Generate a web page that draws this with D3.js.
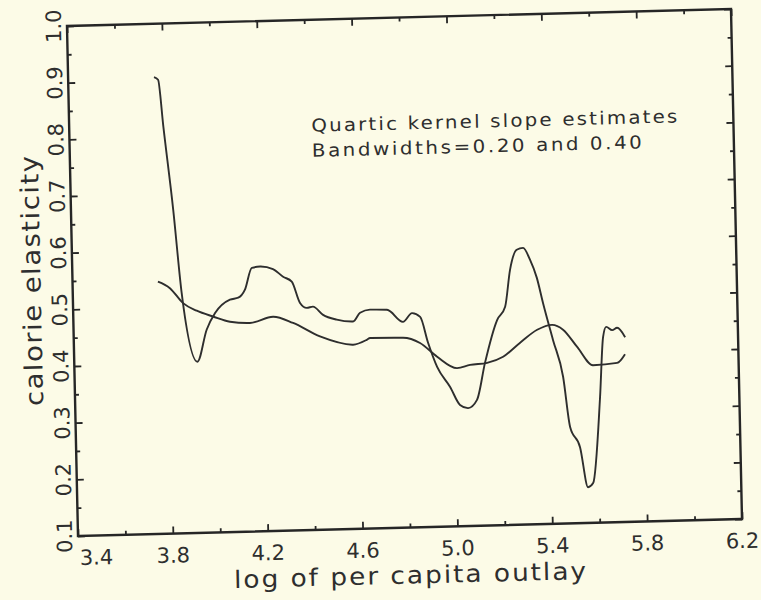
<!DOCTYPE html>
<html><head><meta charset="utf-8">
<script src="https://cdn.jsdelivr.net/npm/d3@7"></script>
<style>
html,body{margin:0;padding:0;background:#fcfbe7;}
svg{display:block;}
text{font-family:"DejaVu Sans",sans-serif;fill:#2e2e2e;}
</style></head>
<body>
<svg id="chart" width="761" height="600"></svg>
<script>
// ---- data ----
const xTickValues = [3.4,3.6,3.8,4.0,4.2,4.4,4.6,4.8,5.0,5.2,5.4,5.6,5.8,6.0,6.2];
const xTickLabels = ["3.4","3.8","4.2","4.6","5.0","5.4","5.8","6.2"];
const yTickValues = [0.1,0.15,0.2,0.25,0.3,0.35,0.4,0.45,0.5,0.55,0.6,0.65,0.7,0.75,0.8,0.85,0.9,0.95,1.0];
const yTickLabels = ["0.1","0.2","0.3","0.4","0.5","0.6","0.7","0.8","0.9","1.0"];
const xTitle = "log of per capita outlay";
const yTitle = "calorie elasticity";
const noteLines = ["Quartic kernel slope estimates","Bandwidths=0.20 and 0.40"];

// bandwidth 0.20 (wiggly)
const bw020_x = [3.762,3.779,3.797,3.831,3.859,3.919,3.961,3.998,4.062,4.097,4.126,4.157,4.192,4.246,4.288,4.324,4.357,4.385,4.411,4.453,4.510,4.579,4.609,4.651,4.723,4.789,4.828,4.862,4.893,4.929,4.982,5.022,5.056,5.094,5.131,5.186,5.221,5.245,5.275,5.302,5.330,5.357,5.381,5.420,5.459,5.484,5.524,5.554,5.576,5.613,5.631,5.645,5.670,5.691,5.724];
const bw020_y = [0.906,0.901,0.818,0.671,0.524,0.402,0.458,0.487,0.510,0.513,0.527,0.565,0.567,0.562,0.548,0.539,0.501,0.492,0.494,0.479,0.470,0.466,0.481,0.486,0.485,0.463,0.478,0.471,0.425,0.382,0.346,0.314,0.308,0.322,0.387,0.462,0.485,0.550,0.585,0.588,0.567,0.535,0.490,0.424,0.359,0.270,0.234,0.163,0.170,0.322,0.427,0.445,0.439,0.443,0.426];
// bandwidth 0.40 (smooth)
const bw040_x = [3.760,3.810,3.864,3.921,3.989,4.060,4.144,4.242,4.326,4.438,4.577,4.635,4.649,4.788,4.859,4.930,5.013,5.068,5.140,5.208,5.281,5.354,5.417,5.463,5.521,5.586,5.688,5.722];
const bw040_y = [0.545,0.533,0.506,0.492,0.481,0.471,0.468,0.478,0.466,0.441,0.425,0.433,0.436,0.435,0.425,0.400,0.379,0.384,0.387,0.397,0.421,0.443,0.451,0.442,0.411,0.378,0.381,0.396];

// ---- drawing ----
(function(){
const svg = d3.select("#chart");
svg.append("rect").attr("width",761).attr("height",600).attr("fill","#fcfbe7");

const ox = 78, oy = 536;
const g = svg.append("g")
  .attr("transform", `translate(${ox},${oy}) matrix(1,-0.0256,0.0216,1,0,0) translate(${-ox},${-oy})`);

const x = d3.scaleLinear().domain([3.4, 6.2]).range([78, 742]);
const y = d3.scaleLinear().domain([0.1, 1.0]).range([536, 26]);
const ink = "#262626";

g.append("rect").attr("x",x(3.4)).attr("y",y(1.0))
  .attr("width",x(6.2)-x(3.4)).attr("height",y(0.1)-y(1.0))
  .attr("fill","none").attr("stroke",ink).attr("stroke-width",2.4);

const isMajorX = v => Math.abs(((v-3.4)/0.4) - Math.round((v-3.4)/0.4)) < 1e-6;
const isMajorY = v => Math.abs(v*10 - Math.round(v*10)) < 1e-6;

function tickAxis(axisGen, tx, ty, attr, fn){
  const a = g.append("g").attr("transform",`translate(${tx},${ty})`)
    .call(axisGen.tickSizeInner(0).tickSizeOuter(0).tickFormat(""));
  a.select(".domain").remove();
  a.selectAll(".tick line").attr(attr, fn).attr("stroke",ink).attr("stroke-width",1.8);
}
tickAxis(d3.axisBottom(x).tickValues(xTickValues), 0, y(0.1), "y2", d => isMajorX(d) ? -7 : -4);
tickAxis(d3.axisTop(x).tickValues(xTickValues), 0, y(1.0), "y2", d => isMajorX(d) ? 7 : 4);
tickAxis(d3.axisLeft(y).tickValues(yTickValues), x(3.4), 0, "x2", d => isMajorY(d) ? 7 : 4);
tickAxis(d3.axisRight(y).tickValues(yTickValues), x(6.2), 0, "x2", d => isMajorY(d) ? -7 : -4);

g.selectAll("text.xl").data(xTickLabels).enter().append("text")
  .attr("class","xl")
  .attr("x", (d,i) => x(+d) + (i===0 ? 18 : 0))
  .attr("y", y(0.1) + 29)
  .attr("text-anchor","middle")
  .attr("font-size",21)
  .text(d => d);

g.selectAll("text.yl").data(yTickLabels).enter().append("text")
  .attr("class","yl")
  .attr("transform", d => `translate(${x(3.4)-6},${y(+d)}) rotate(-90)`)
  .attr("text-anchor","middle")
  .attr("font-size",21)
  .text(d => d);

const sx = 1.1;
g.append("text")
  .attr("transform",`translate(409,592) scale(${sx},1)`)
  .attr("text-anchor","middle").attr("font-size",24)
  .attr("textLength",352/sx).attr("lengthAdjust","spacing")
  .text(xTitle);
g.append("text")
  .attr("transform",`translate(46,280) rotate(-90) scale(${sx},1)`)
  .attr("text-anchor","middle").attr("font-size",25)
  .attr("textLength",250/sx).attr("lengthAdjust","spacing")
  .text(yTitle);

const noteLens = [366, 330];
g.selectAll("text.note").data(noteLines).enter().append("text")
  .attr("class","note")
  .attr("transform",(d,i)=>`translate(320,${138 + i*25}) scale(${sx},1)`)
  .attr("font-size",18)
  .attr("textLength",(d,i)=>noteLens[i]/sx).attr("lengthAdjust","spacing")
  .text(d=>d);

const line = d3.line().x(d=>x(d[0])).y(d=>y(d[1])).curve(d3.curveMonotoneX);
const serA = bw020_x.map((v,i)=>[v,bw020_y[i]]);
const serB = bw040_x.map((v,i)=>[v,bw040_y[i]]);
[serA, serB].forEach(s => {
  g.append("path").datum(s).attr("d",line)
   .attr("fill","none").attr("stroke","#2e2e2e").attr("stroke-width",1.9)
   .attr("stroke-linejoin","round");
});
})();
</script>
</body></html>
